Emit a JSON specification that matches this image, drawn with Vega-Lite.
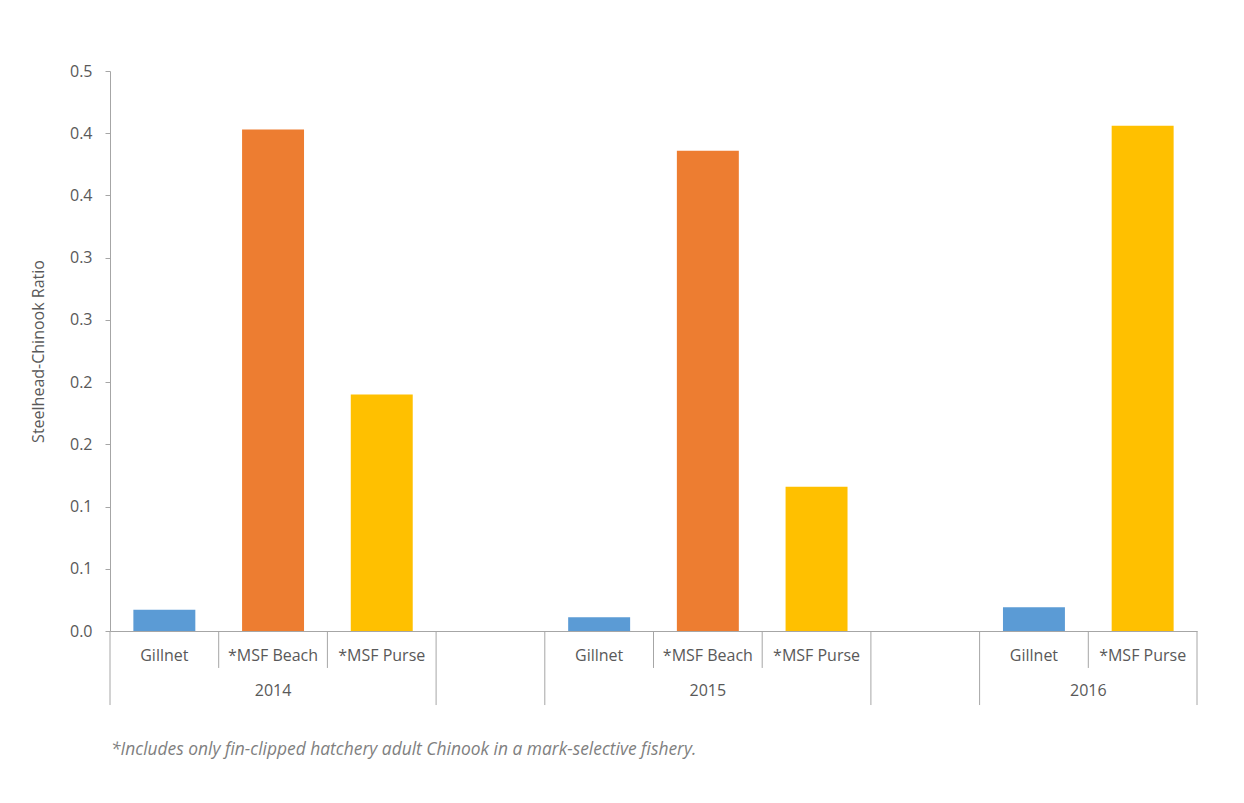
{
  "$schema": "https://vega.github.io/schema/vega-lite/v6.json",
  "width": 1087,
  "height": 560,
  "autosize": {"type": "none"},
  "padding": {"left": 110, "top": 71, "right": 47, "bottom": 172},
  "background": "white",
  "config": {"view": {"stroke": null}, "font": "Open Sans"},
  "datasets": {
    "bars": [
      {"slot": "2014|Gillnet", "year": "2014", "gear": "Gillnet", "ratio": 0.017},
      {"slot": "2014|*MSF Beach", "year": "2014", "gear": "*MSF Beach", "ratio": 0.403},
      {"slot": "2014|*MSF Purse", "year": "2014", "gear": "*MSF Purse", "ratio": 0.19},
      {"slot": "2015|Gillnet", "year": "2015", "gear": "Gillnet", "ratio": 0.011},
      {"slot": "2015|*MSF Beach", "year": "2015", "gear": "*MSF Beach", "ratio": 0.386},
      {"slot": "2015|*MSF Purse", "year": "2015", "gear": "*MSF Purse", "ratio": 0.116},
      {"slot": "2016|Gillnet", "year": "2016", "gear": "Gillnet", "ratio": 0.019},
      {"slot": "2016|*MSF Purse", "year": "2016", "gear": "*MSF Purse", "ratio": 0.406}
    ],
    "bounds": [
      {"slot": "2014|Gillnet", "kind": "long"},
      {"slot": "2014|*MSF Beach", "kind": "short"},
      {"slot": "2014|*MSF Purse", "kind": "short"},
      {"slot": "gap1", "kind": "long"},
      {"slot": "2015|Gillnet", "kind": "long"},
      {"slot": "2015|*MSF Beach", "kind": "short"},
      {"slot": "2015|*MSF Purse", "kind": "short"},
      {"slot": "gap2", "kind": "long"},
      {"slot": "2016|Gillnet", "kind": "long"},
      {"slot": "2016|*MSF Purse", "kind": "short"},
      {"slot": "2016|*MSF Purse", "kind": "end"}
    ],
    "years": [
      {"year": "2014", "slot": "2014|*MSF Beach", "anchor": "mid"},
      {"year": "2015", "slot": "2015|*MSF Beach", "anchor": "mid"},
      {"year": "2016", "slot": "2016|*MSF Purse", "anchor": "start"}
    ],
    "notes": [
      {"slot": "2014|Gillnet", "note": "*Includes only fin-clipped hatchery adult Chinook in a mark-selective fishery."}
    ]
  },
  "layer": [
    {
      "data": {"name": "bars"},
      "mark": {"type": "bar", "width": {"band": 0.57}},
      "encoding": {
        "x": {
          "field": "slot", "type": "nominal", "sort": null,
          "scale": {
            "domain": ["2014|Gillnet", "2014|*MSF Beach", "2014|*MSF Purse", "gap1", "2015|Gillnet", "2015|*MSF Beach", "2015|*MSF Purse", "gap2", "2016|Gillnet", "2016|*MSF Purse"],
            "paddingInner": 0, "paddingOuter": 0
          },
          "axis": {"labels": false, "ticks": false, "domainColor": "#A6A6A6", "domainWidth": 1, "title": null, "grid": false}
        },
        "y": {
          "field": "ratio", "type": "quantitative",
          "scale": {"domain": [0, 0.45], "nice": false, "zero": true},
          "axis": {
            "title": "Steelhead-Chinook Ratio",
            "values": [0, 0.05, 0.1, 0.15, 0.2, 0.25, 0.3, 0.35, 0.4, 0.45],
            "labelExpr": "format(datum.value + 1e-9, '.1f')",
            "grid": false,
            "domainColor": "#A6A6A6",
            "tickColor": "#A6A6A6",
            "tickSize": 5,
            "labelPadding": 13,
            "labelFontSize": 16,
            "labelColor": "#595959",
            "titleFontSize": 16,
            "titleFontWeight": "normal",
            "titleColor": "#595959",
            "titlePadding": 23
          }
        },
        "color": {
          "field": "gear", "type": "nominal",
          "scale": {"domain": ["Gillnet", "*MSF Beach", "*MSF Purse"], "range": ["#5B9BD5", "#ED7D31", "#FFC000"]},
          "legend": null
        }
      }
    },
    {
      "data": {"name": "bars"},
      "mark": {"type": "text", "fontSize": 16, "color": "#595959", "baseline": "middle", "align": "center"},
      "encoding": {
        "x": {"field": "slot", "type": "nominal"},
        "y": {"datum": -0.0201},
        "text": {"field": "gear"}
      }
    },
    {
      "data": {"name": "years"},
      "transform": [{"filter": "datum.anchor === 'mid'"}],
      "mark": {"type": "text", "fontSize": 16, "color": "#595959", "baseline": "middle", "align": "center"},
      "encoding": {
        "x": {"field": "slot", "type": "nominal"},
        "y": {"datum": -0.0482},
        "text": {"field": "year"}
      }
    },
    {
      "data": {"name": "years"},
      "transform": [{"filter": "datum.anchor === 'start'"}],
      "mark": {"type": "text", "fontSize": 16, "color": "#595959", "baseline": "middle", "align": "center"},
      "encoding": {
        "x": {"field": "slot", "type": "nominal", "bandPosition": 0},
        "y": {"datum": -0.0482},
        "text": {"field": "year"}
      }
    },
    {
      "data": {"name": "bounds"},
      "transform": [{"filter": "datum.kind === 'long'"}],
      "mark": {"type": "rule", "color": "#A6A6A6", "strokeWidth": 1},
      "encoding": {
        "x": {"field": "slot", "type": "nominal", "bandPosition": 0},
        "y": {"datum": 0},
        "y2": {"datum": -0.0595}
      }
    },
    {
      "data": {"name": "bounds"},
      "transform": [{"filter": "datum.kind === 'short'"}],
      "mark": {"type": "rule", "color": "#A6A6A6", "strokeWidth": 1},
      "encoding": {
        "x": {"field": "slot", "type": "nominal", "bandPosition": 0},
        "y": {"datum": 0},
        "y2": {"datum": -0.0297}
      }
    },
    {
      "data": {"name": "bounds"},
      "transform": [{"filter": "datum.kind === 'end'"}],
      "mark": {"type": "rule", "color": "#A6A6A6", "strokeWidth": 1},
      "encoding": {
        "x": {"field": "slot", "type": "nominal", "bandPosition": 1},
        "y": {"datum": 0},
        "y2": {"datum": -0.0595}
      }
    },
    {
      "data": {"name": "notes"},
      "mark": {"type": "text", "fontSize": 17.4, "fontStyle": "italic", "color": "#7F7F7F", "baseline": "middle", "align": "left", "dx": 1},
      "encoding": {
        "x": {"field": "slot", "type": "nominal", "bandPosition": 0},
        "y": {"datum": -0.0956},
        "text": {"field": "note"}
      }
    }
  ]
}
